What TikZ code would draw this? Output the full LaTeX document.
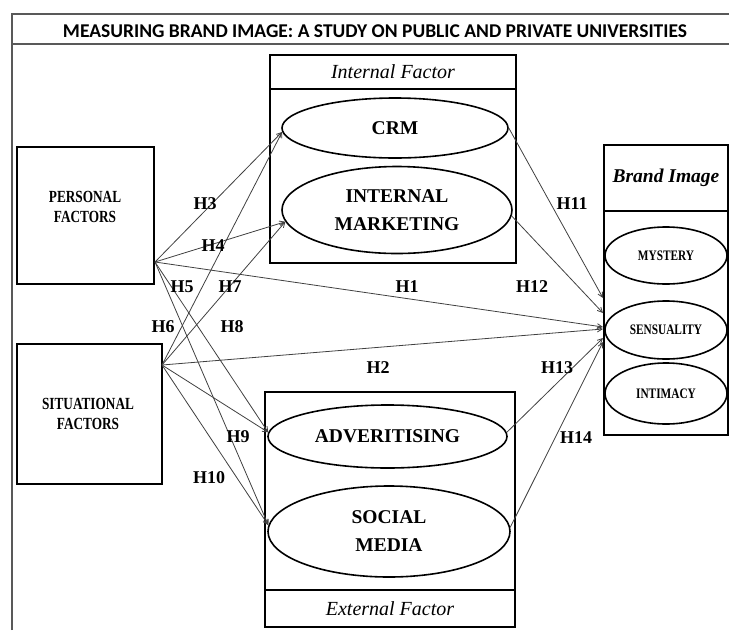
\documentclass[tikz,border=0pt]{standalone}
\usepackage{fontspec}
\setmainfont{Liberation Serif}
\newfontfamily\titlefont{Carlito}
\newfontfamily\narrowserif[FakeStretch=0.78]{Liberation Serif}
\usetikzlibrary{shapes.geometric,arrows.meta}

\tikzset{
  framepen/.style={draw=black!65, line width=1.3pt},
  box/.style={draw=black, line width=1.6pt, rectangle, inner sep=0pt},
  oval/.style={draw=black, line width=1.6pt, ellipse, inner sep=0pt, align=center,
    font=\fontsize{19.5}{28}\selectfont\bfseries},
  smalloval/.style={oval, font=\narrowserif\fontsize{14.5}{14.5}\selectfont\bfseries},
  sidetext/.style={align=center, inner sep=0pt,
    font=\narrowserif\fontsize{17}{20}\selectfont\bfseries},
  headtext/.style={font=\fontsize{20}{20}\selectfont\itshape},
  hlabel/.style={inner sep=0pt, font=\fontsize{18}{18}\selectfont\bfseries},
  link/.style={draw=black!75, line width=0.8pt, -{Straight Barb[length=5pt,width=5pt]}},
  titletext/.style={inner sep=0pt, font=\titlefont\fontsize{19.5}{19.5}\selectfont\bfseries}
}

\begin{document}
\begin{tikzpicture}[x=1pt,y=-1pt]
\useasboundingbox (0,0) rectangle (729,630);

% page frame and title band
\draw[framepen] (12,630) -- (12,14) -- (729,14);
\draw[framepen] (12,44) -- (729,44);
\node[titletext] (title) at (375,31) {MEASURING BRAND IMAGE: A STUDY ON PUBLIC AND PRIVATE UNIVERSITIES};

% antecedent factors
\node[box, minimum width=137, minimum height=137] (pers) at (85.5,215.5) {};
\node[sidetext] (perstext) at (85,207) {PERSONAL\\FACTORS};
\node[box, minimum width=145, minimum height=140] (sit) at (89.5,414) {};
\node[sidetext] (sittext) at (88,414) {SITUATIONAL\\FACTORS};

% internal factor block
\node[box, headtext, minimum width=246, minimum height=34] (inthead) at (393,72) {Internal Factor};
\node[box, minimum width=246, minimum height=174] (intbox) at (393,176) {};
\node[oval, minimum width=226, minimum height=60] (crm) at (395,128) {CRM};
\node[oval, minimum width=230, minimum height=87] (im) at (397,210) {INTERNAL\\MARKETING};

% external factor block
\node[box, minimum width=250, minimum height=198] (extbox) at (390,491) {};
\node[box, headtext, minimum width=250, minimum height=37] (exthead) at (390,608.5) {External Factor};
\node[oval, minimum width=239, minimum height=63] (adv) at (387.5,436.5) {ADVERITISING};
\node[oval, minimum width=242, minimum height=91] (sm) at (389,531.5) {SOCIAL\\MEDIA};

% brand image block
\node[box, headtext, font=\fontsize{19.5}{20}\selectfont\bfseries\itshape,
      minimum width=124, minimum height=66] (brandhead) at (666,178) {Brand Image};
\node[box, minimum width=124, minimum height=224] (brandbox) at (666,323) {};
\node[smalloval, minimum width=122, minimum height=57] (mys) at (666,255.5) {MYSTERY};
\node[smalloval, minimum width=122, minimum height=58] (sens) at (666,330) {SENSUALITY};
\node[smalloval, minimum width=122, minimum height=61] (inti) at (666,393.5) {INTIMACY};

% connector end points
\coordinate (persout) at (155,262);
\coordinate (sitout) at (162,365);
\coordinate (in11) at (603,298);
\coordinate (in12) at (603,313);
\coordinate (in1) at (603,327);
\coordinate (in2) at (603,329);
\coordinate (in13) at (603,338);
\coordinate (in14) at (603,342);

% hypotheses
\draw[link] (persout) -- (crm.182);
\draw[link] (persout) -- (im.186);
\draw[link] (sitout) -- (crm.182);
\draw[link] (sitout) -- (im.186);
\draw[link] (persout) -- (adv.178);
\draw[link] (persout) -- (sm.177);
\draw[link] (sitout) -- (adv.178);
\draw[link] (sitout) -- (sm.177);
\draw[link] (persout) -- (in1);
\draw[link] (sitout) -- (in2);
\draw[link] (crm.east) -- (in11);
\draw[link] (im.357) -- (in12);
\draw[link] (adv.2) -- (in13);
\draw[link] (sm.2) -- (in14);

% hypothesis labels
\node[hlabel] (h1) at (407,287) {H1};
\node[hlabel] (h2) at (378,368) {H2};
\node[hlabel] (h3) at (205,204) {H3};
\node[hlabel] (h4) at (213,246) {H4};
\node[hlabel] (h5) at (182,287) {H5};
\node[hlabel] (h6) at (163,327) {H6};
\node[hlabel] (h7) at (230,287) {H7};
\node[hlabel] (h8) at (232,327) {H8};
\node[hlabel] (h9) at (238,437) {H9};
\node[hlabel] (h10) at (209,478) {H10};
\node[hlabel] (h11) at (572,204) {H11};
\node[hlabel] (h12) at (532,287) {H12};
\node[hlabel] (h13) at (557,368) {H13};
\node[hlabel] (h14) at (576,438) {H14};
\end{tikzpicture}
\end{document}
